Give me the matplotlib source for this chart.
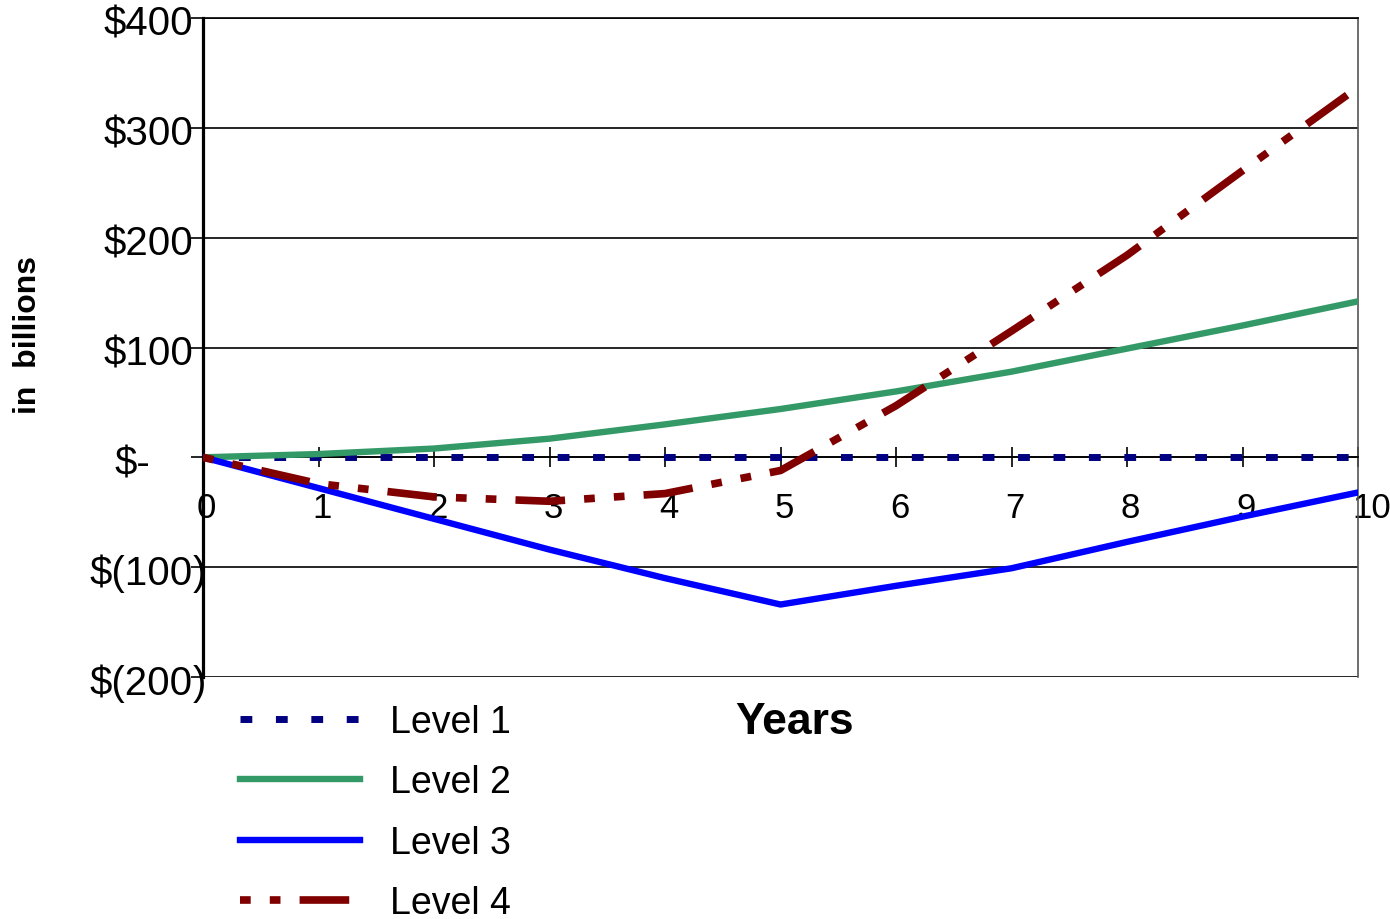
import matplotlib
matplotlib.use('Agg')

import matplotlib.pyplot as plt
from matplotlib.transforms import ScaledTranslation, blended_transform_factory

plt.rcParams['font.family'] = ['Liberation Sans', 'DejaVu Sans']

# data (billions of dollars per year)
years = [0, 1, 2, 3, 4, 5, 6, 7, 8, 9, 10]
level_1 = [0, 0, 0, 0, 0, 0, 0, 0, 0, 0, 0]
level_2 = [0, 3, 8, 17, 30, 44, 60, 78, 99, 120, 142]
level_3 = [0, -28, -56, -84, -110, -134, -117, -101, -77, -54, -32]
level_4 = [0, -24, -36, -40, -33, -12, 47, 115, 184, 261, 337]

y_ticks = [-200, -100, 0, 100, 200, 300, 400]
y_tick_labels = ['$(200)', '$(100)', '$-', '$100', '$200', '$300', '$400']
series_names = ['Level 1', 'Level 2', 'Level 3', 'Level 4']

fig = plt.figure(figsize=(13.9, 9.2), dpi=100)
ax = fig.add_axes([203 / 1390, 1 - 678 / 920, (1358 - 203) / 1390, (678 - 19) / 920])

# the four lines
ax.plot(years, level_1, color='#000080', lw=5, linestyle=(0, (1.7, 3.4)),
        solid_capstyle='butt', dash_capstyle='butt', label=series_names[0], zorder=3)
ax.plot(years, level_2, color='#339966', lw=4.6, label=series_names[1], zorder=4)
ax.plot(years, level_3, color='#0000FF', lw=4.6, label=series_names[2], zorder=5)
ax.plot(years, level_4, color='#800000', lw=5.5,
        linestyle=(9, (6.5, 2.5, 1.4, 2.5, 1.4, 2.5)),
        dash_capstyle='butt', label=series_names[3], zorder=6)

ax.set_xlim(0, 10)
ax.set_ylim(-200, 400)

# axes frame: x axis sits on the zero line
ax.spines['bottom'].set_position(('data', 0))
ax.spines['bottom'].set_linewidth(1.2)
ax.spines['left'].set_linewidth(2.3)
ax.spines['top'].set_linewidth(1.2)
ax.spines['right'].set_color('#555555')
ax.spines['right'].set_linewidth(1.2)

ax.set_yticks(y_ticks)
ax.grid(axis='y', color='black', lw=1.2, zorder=1)
ax.tick_params(axis='y', direction='out', length=9, width=1.2, labelleft=False)

ax.set_xticks(years)
ax.set_xticklabels([str(y) for y in years], ha='left', fontsize=25)
ax.tick_params(axis='x', direction='inout', length=14, width=1.2, pad=17)
for lbl in ax.get_xticklabels():
    lbl.set_transform(lbl.get_transform() + ScaledTranslation(-6 / 100, 0, fig.dpi_scale_trans))

# accounting style y labels: digits right aligned, ")" hanging past
ytrans = blended_transform_factory(ax.transAxes, ax.transData)
down = -6 / 100
for val, txt in zip(y_ticks, y_tick_labels):
    if val < 0:
        base = ytrans + ScaledTranslation(-10 / 100, down, fig.dpi_scale_trans)
        ax.text(0, val, txt[:-1], transform=base, ha='right', va='center', fontsize=29)
        ax.text(0, val, txt[-1], transform=base, ha='left', va='center', fontsize=29)
    elif val == 0:
        base = ytrans + ScaledTranslation(-53 / 100, down, fig.dpi_scale_trans)
        ax.text(0, val, txt, transform=base, ha='right', va='center', fontsize=29)
    else:
        base = ytrans + ScaledTranslation(-10 / 100, down, fig.dpi_scale_trans)
        ax.text(0, val, txt, transform=base, ha='right', va='center', fontsize=29)

fig.text(28 / 1390, 1 - 335 / 920, 'in  billions', rotation=90, ha='center', va='center',
         fontsize=23, fontweight='bold')
fig.text(795 / 1390, 1 - 723 / 920, 'Years', ha='center', va='center',
         fontsize=32, fontweight='bold')

fig.legend(loc='upper left', bbox_to_anchor=(240 / 1390, 1 - 705 / 920), frameon=False,
           fontsize=27, handlelength=3.2, handletextpad=0.8, labelspacing=0.65,
           borderpad=0, borderaxespad=0)

fig.savefig('out.png', dpi=100, facecolor='white')
